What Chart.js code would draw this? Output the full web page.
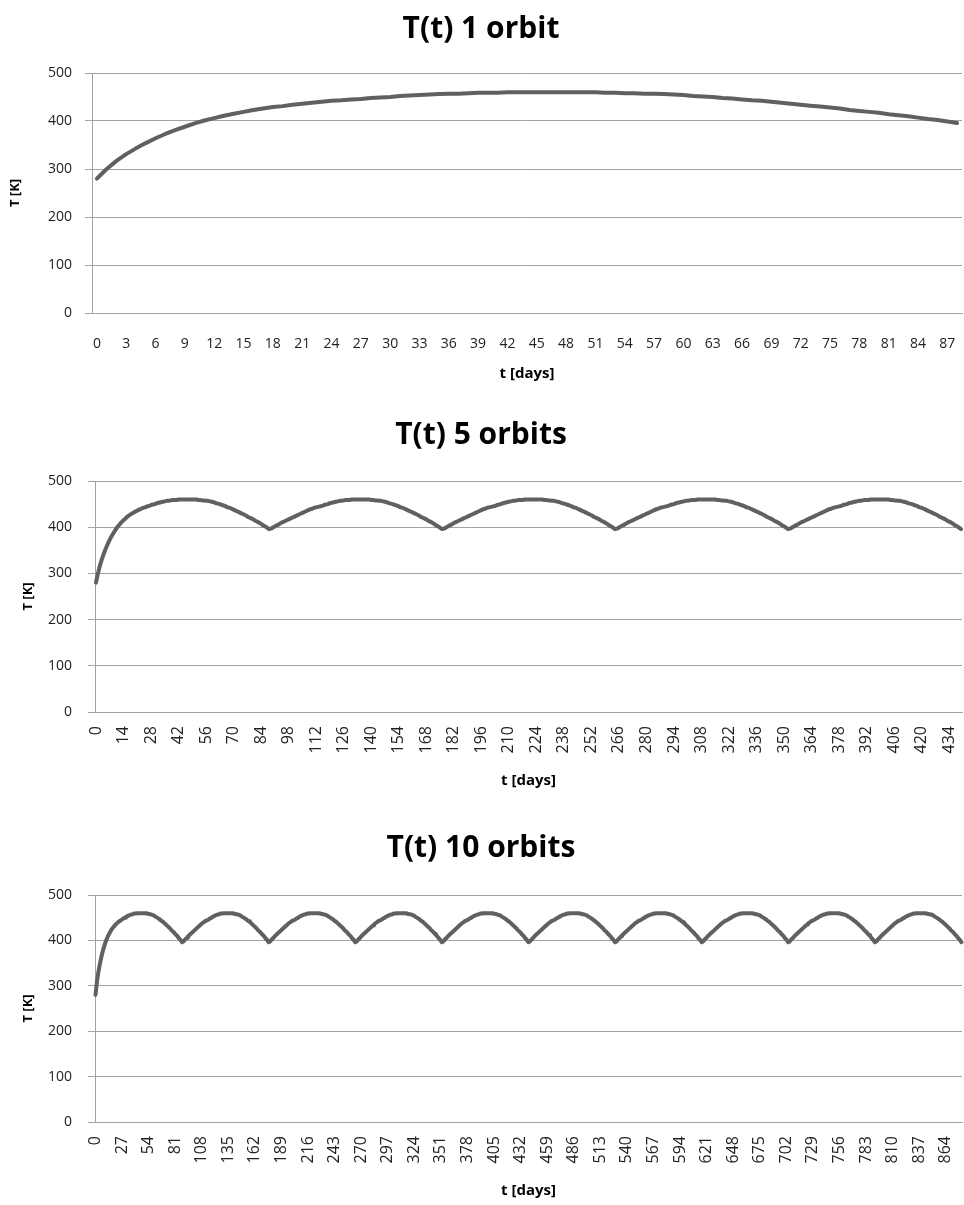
<!DOCTYPE html>
<html>
<head>
<meta charset="utf-8">
<script src="https://cdn.jsdelivr.net/npm/chart.js@4.4.0/dist/chart.umd.min.js"></script>
<style>
  body { margin: 0; background: #fff; }
  .panel { position: absolute; left: 0; width: 964px; }
</style>
</head>
<body>
<div class="panel" style="top:0;height:400px"><canvas id="chart1"></canvas></div>
<div class="panel" style="top:405px;height:400px"><canvas id="chart5"></canvas></div>
<div class="panel" style="top:815px;height:390px"><canvas id="chart10"></canvas></div>

<script>
// T [K] for day 0..88 of the first orbit (warm up from 280 K)
const firstOrbitTemps = [
  280, 300, 317, 331, 343, 354, 364, 373, 381, 388,
  395, 401, 406, 411, 415, 419, 423, 426, 429, 431,
  434, 436, 438, 440, 442, 443, 445, 446, 448, 449,
  450, 452, 453, 454, 455, 456, 457, 457, 458, 459,
  459, 459, 460, 460, 460, 460, 460, 460, 460, 460,
  460, 460, 459, 459, 458, 458, 457, 457, 456, 455,
  454, 452, 451, 450, 448, 447, 445, 443, 442, 440,
  438, 436, 434, 432, 430, 428, 426, 423, 421, 419,
  417, 414, 412, 410, 407, 404, 402, 399, 396
]

const laterOrbitTemps = [
  397, 399, 402, 404, 406, 409, 411, 413, 415, 417,
  419, 421, 423, 425, 427, 429, 431, 433, 435, 437,
  439, 440, 442, 443, 444, 445, 446, 448, 449, 450,
  452, 453, 454, 455, 456, 457, 457, 458, 459, 459,
  459, 460, 460, 460, 460, 460, 460, 460, 460, 460,
  460, 459, 459, 458, 458, 457, 457, 456, 455, 454,
  452, 451, 450, 448, 447, 445, 443, 442, 440, 438,
  436, 434, 432, 430, 428, 426, 423, 421, 419, 417,
  414, 412, 410, 407, 404, 402, 399, 396
]

const chartTitles = ['T(t) 1 orbit', 'T(t) 5 orbits', 'T(t) 10 orbits']
const orbitCounts = [1, 5, 10]
const xTickSteps = [3, 14, 27]   // every n-th day gets a label
const xAxisTitle = 't [days]'
const yAxisTitle = 'T [K]'

const FONT = 'Open Sans'
const GRID = '#a3a3a3'
const LINE = '#606060'

function buildTemps(orbits) {
  let temps = firstOrbitTemps.slice()
  for (let i = 1; i < orbits; i++) temps = temps.concat(laterOrbitTemps)
  return temps
}

// layout numbers per panel, tuned against the picture
const layouts = [
  { titleTop: 11, titleBottom: 26, yWidth: 92, yTitlePad: 7, yLabelPad: 13, xHeight: 87, xLabelPad: 15, xTitleBottom: 17, rotate: 0, xFont: 14 },
  { titleTop: 12, titleBottom: 28, yWidth: 95, yTitlePad: 20, yLabelPad: 16, xHeight: 93, xLabelPad: 6, xTitleBottom: 15, rotate: 90, xFont: 16 },
  { titleTop: 15, titleBottom: 29, yWidth: 95, yTitlePad: 20, yLabelPad: 16, xHeight: 83, xLabelPad: 6, xTitleBottom: 5, rotate: 90, xFont: 16 }
]

function makeChart(id, idx) {
  const temps = buildTemps(orbitCounts[idx])
  const days = temps.map((t, i) => String(i))
  const L = layouts[idx]
  const step = xTickSteps[idx]

  new Chart(document.getElementById(id), {
    type: 'line',
    data: {
      labels: days,
      datasets: [{
        data: temps,
        borderColor: LINE,
        borderWidth: 4,
        borderJoinStyle: 'round',
        borderCapStyle: 'round',
        pointRadius: 0,
        tension: 0,
        fill: false
      }]
    },
    options: {
      responsive: true,
      maintainAspectRatio: false,
      animation: false,
      layout: { padding: { left: 0, right: 2, top: 0, bottom: 0 } },
      plugins: {
        legend: { display: false },
        tooltip: { enabled: false },
        title: {
          display: true,
          text: chartTitles[idx],
          color: '#000',
          font: { family: FONT, size: 30, weight: 'bold' },
          padding: { top: L.titleTop, bottom: L.titleBottom }
        }
      },
      scales: {
        x: {
          type: 'category',
          offset: true,
          grid: { display: false },
          border: { display: true, color: GRID },
          ticks: {
            autoSkip: false,
            minRotation: L.rotate,
            maxRotation: L.rotate,
            padding: L.xLabelPad,
            color: '#222',
            font: { family: FONT, size: L.xFont },
            callback: function (value, index) {
              return index % step === 0 ? this.getLabelForValue(value) : ''
            }
          },
          title: {
            display: true,
            text: xAxisTitle,
            color: '#000',
            font: { family: FONT, size: 15, weight: 'bold' },
            padding: { top: 0, bottom: L.xTitleBottom }
          },
          afterFit: function (scale) {
            scale.height = L.xHeight
            // let the plot run to the right edge like the original
            scale.paddingLeft = 0
            scale.paddingRight = 0
          }
        },
        y: {
          min: 0,
          max: 500,
          ticks: {
            stepSize: 100,
            padding: L.yLabelPad,
            color: '#222',
            font: { family: FONT, size: 14 }
          },
          grid: { color: GRID, lineWidth: 1, tickLength: 7, drawTicks: true },
          border: { display: true, color: GRID },
          title: {
            display: true,
            text: yAxisTitle,
            color: '#000',
            font: { family: FONT, size: 13, weight: 'bold' },
            padding: { top: L.yTitlePad, bottom: 0 }
          },
          afterFit: function (scale) { scale.width = L.yWidth }
        }
      }
    }
  })
}

makeChart('chart1', 0)
makeChart('chart5', 1)
makeChart('chart10', 2)
</script>
</body>
</html>
